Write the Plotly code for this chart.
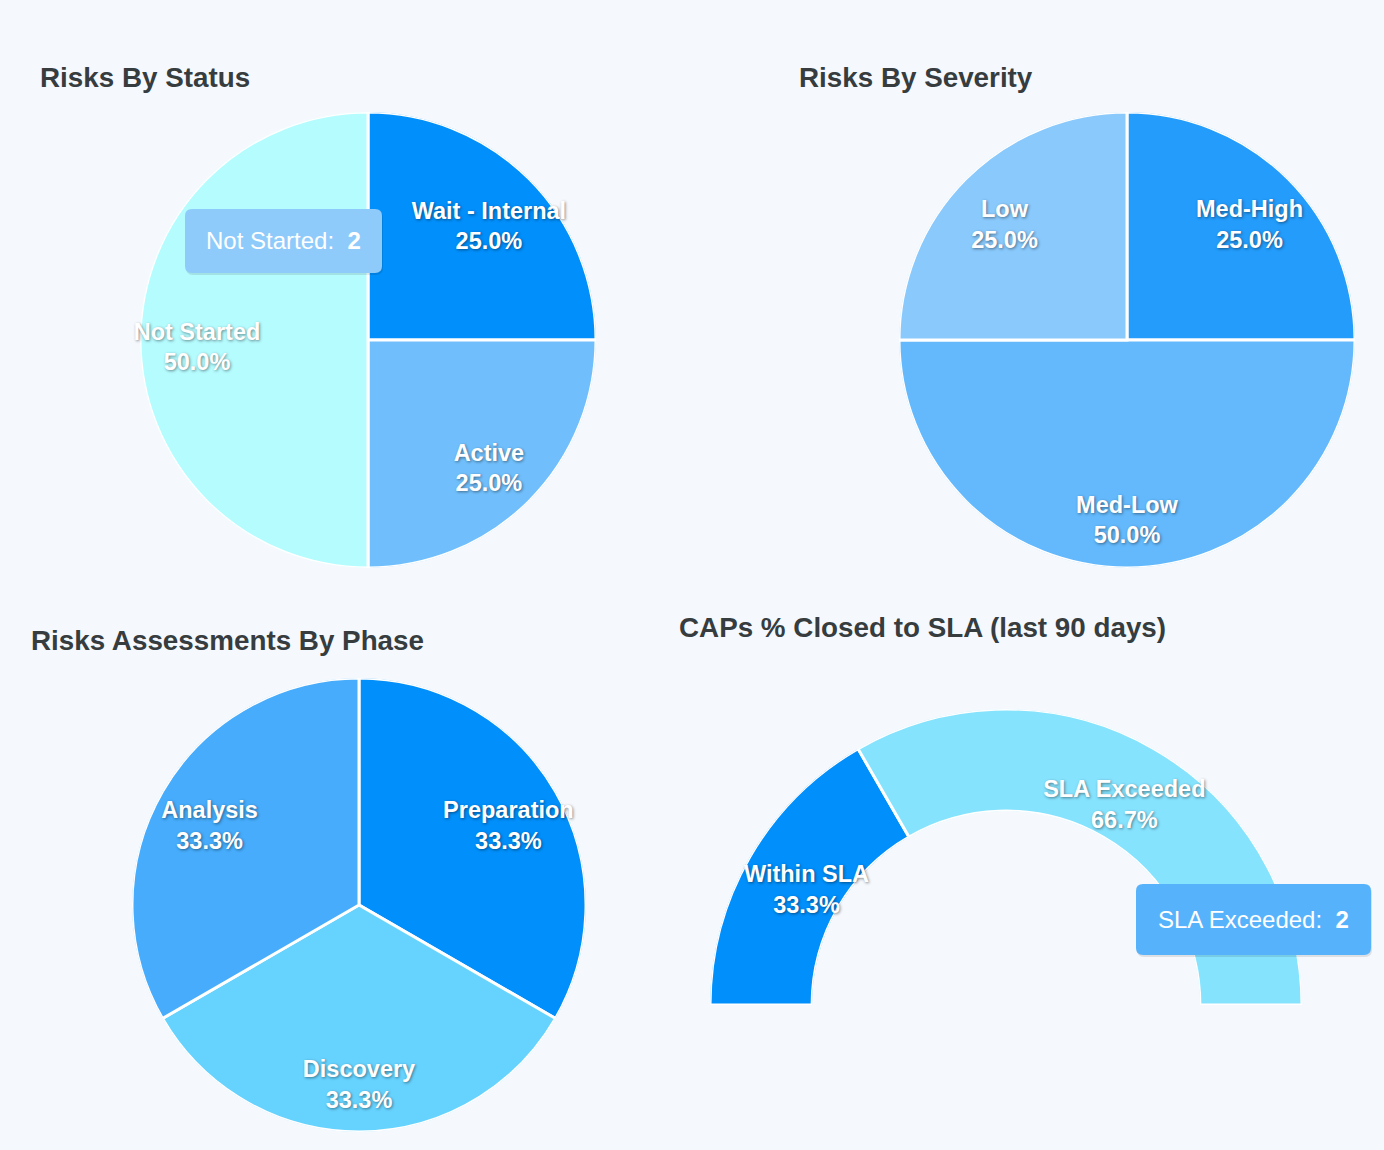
import plotly.graph_objects as go

# ---------------- data ----------------
status_labels = ["Wait - Internal", "Active", "Not Started"]
status_values = [1, 1, 2]
status_colors = ["#008ffb", "#70bffc", "#b5fcff"]

severity_labels = ["Med-High", "Med-Low", "Low"]
severity_values = [1, 2, 1]
severity_colors = ["#239cfb", "#63b9fc", "#89c9fc"]

phase_labels = ["Preparation", "Discovery", "Analysis"]
phase_values = [1, 1, 1]
phase_colors = ["#008ffb", "#66d3fe", "#46acfb"]

sla_labels = ["Within SLA", "SLA Exceeded"]
sla_values = [1, 2]
sla_colors = ["#008ffb", "#86e3fe"]

titles = ["Risks By Status", "Risks By Severity",
          "Risks Assessments By Phase", "CAPs % Closed to SLA (last 90 days)"]

W, H = 1384, 1150
BG = "#f5f9fd"
FONT = "Liberation Sans, Arial, Helvetica, sans-serif"
SHADOW = "1px 1px 3px rgba(0,0,0,0.45)"


def px_dom(x0, x1, y0, y1):
    return dict(x=[x0 / W, x1 / W], y=[1 - y1 / H, 1 - y0 / H])


fig = go.Figure()


def add_ring(labels, values, colors, subplot, label_subplot, span, label_r):
    total = sum(values)
    widths = [v / total * span for v in values]
    centers, acc = [], 0
    for w in widths:
        centers.append(acc + w / 2)
        acc += w
    pcts = [f"{v / total * 100:.1f}%" for v in values]
    fig.add_trace(go.Barpolar(
        r=[1] * len(values), theta=centers, width=widths, base=0,
        marker=dict(color=colors, line=dict(color="white", width=3)),
        text=[f"{l}: {v}" for l, v in zip(labels, values)], hoverinfo="text",
        showlegend=False, subplot=subplot,
    ))
    fig.add_trace(go.Scatterpolar(
        r=[label_r] * len(values), theta=centers, mode="text",
        text=[f"<b>{l}</b><br><b>{p}</b>" for l, p in zip(labels, pcts)],
        textfont=dict(family=FONT, size=23.5, color="white", shadow=SHADOW),
        hoverinfo="skip", showlegend=False, subplot=label_subplot,
    ))


add_ring(status_labels, status_values, status_colors, "polar", "polar5", 360, 0.75)
add_ring(severity_labels, severity_values, severity_colors, "polar2", "polar6", 360, 0.76)
add_ring(phase_labels, phase_values, phase_colors, "polar3", "polar7", 360, 0.76)
add_ring(sla_labels, sla_values, sla_colors, "polar4", "polar8", 180, 0.38)


def polar_cfg(dom, hole=0, sector=None, rotation=90):
    cfg = dict(
        domain=dom, hole=hole, bgcolor="rgba(0,0,0,0)",
        radialaxis=dict(visible=False, range=[0, 1]),
        angularaxis=dict(visible=False, direction="clockwise", rotation=rotation),
    )
    if sector is not None:
        cfg["sector"] = sector
    return cfg


# label layers are the same size as their rings, shifted a few px down
LS = 9
fig.update_layout(
    width=W, height=H,
    margin=dict(l=0, r=0, t=0, b=0),
    paper_bgcolor=BG, plot_bgcolor=BG,
    font=dict(family=FONT),
    polar=polar_cfg(px_dom(140, 596, 112, 568)),
    polar2=polar_cfg(px_dom(899, 1355, 112, 568)),
    polar3=polar_cfg(px_dom(132, 586, 678, 1132)),
    polar4=polar_cfg(px_dom(710, 1302, 709, 1005), hole=0.655,
                     sector=[0, 180], rotation=180),
    polar5=polar_cfg(px_dom(140, 596, 112 + LS, 568 + LS)),
    polar6=polar_cfg(px_dom(899, 1355, 112 + LS, 568 + LS)),
    polar7=polar_cfg(px_dom(132, 586, 678 + LS, 1132 + LS)),
    polar8=polar_cfg(px_dom(712, 1304, 709 + 3, 1005 + 3), hole=0.655,
                     sector=[0, 180], rotation=180),
)

# titles
title_pos = [(38, 77), (797, 77), (29, 640), (677, 627)]
for t, (x, y) in zip(titles, title_pos):
    fig.add_annotation(text=f"<b>{t}</b>", xref="paper", yref="paper",
                       x=x / W, y=1 - y / H, xanchor="left", yanchor="middle",
                       showarrow=False,
                       font=dict(family=FONT, size=27.8, color="#373d3f"))


# tooltips (captured hover state) with rounded boxes
def rounded_rect(x0, x1, y0, y1, rad=7):
    def X(v):
        return v / W

    def Y(v):
        return 1 - v / H
    return (f"M {X(x0 + rad)},{Y(y0)} L {X(x1 - rad)},{Y(y0)} "
            f"Q {X(x1)},{Y(y0)} {X(x1)},{Y(y0 + rad)} L {X(x1)},{Y(y1 - rad)} "
            f"Q {X(x1)},{Y(y1)} {X(x1 - rad)},{Y(y1)} L {X(x0 + rad)},{Y(y1)} "
            f"Q {X(x0)},{Y(y1)} {X(x0)},{Y(y1 - rad)} L {X(x0)},{Y(y0 + rad)} "
            f"Q {X(x0)},{Y(y0)} {X(x0 + rad)},{Y(y0)} Z")


tips = [("Not Started", status_values[2], "#8ecbfa", (185, 382, 209, 273)),
        ("SLA Exceeded", sla_values[1], "#56b3fb", (1136, 1371, 884, 955))]
for name, val, col, (x0, x1, y0, y1) in tips:
    fig.add_shape(type="path", xref="paper", yref="paper",
                  path=rounded_rect(x0 + 1, x1 + 1, y0 + 2, y1 + 2),
                  fillcolor="rgba(0,0,0,0.10)", line=dict(width=0), layer="above")
    fig.add_shape(type="path", xref="paper", yref="paper",
                  path=rounded_rect(x0, x1, y0, y1),
                  fillcolor=col, line=dict(width=0), layer="above")
    fig.add_annotation(text=f"{name}:  <b>{val}</b>", xref="paper", yref="paper",
                       x=(x0 + x1) / 2 / W, y=1 - (y0 + y1) / 2 / H,
                       xanchor="center", yanchor="middle", showarrow=False,
                       font=dict(family=FONT, size=24, color="white"))

fig.write_html(
    "out.html",
    config={"displayModeBar": False},
    post_script="document.body.style.margin='0';"
                "document.body.style.overflow='hidden';"
                "document.body.style.background='#f5f9fd';",
)
